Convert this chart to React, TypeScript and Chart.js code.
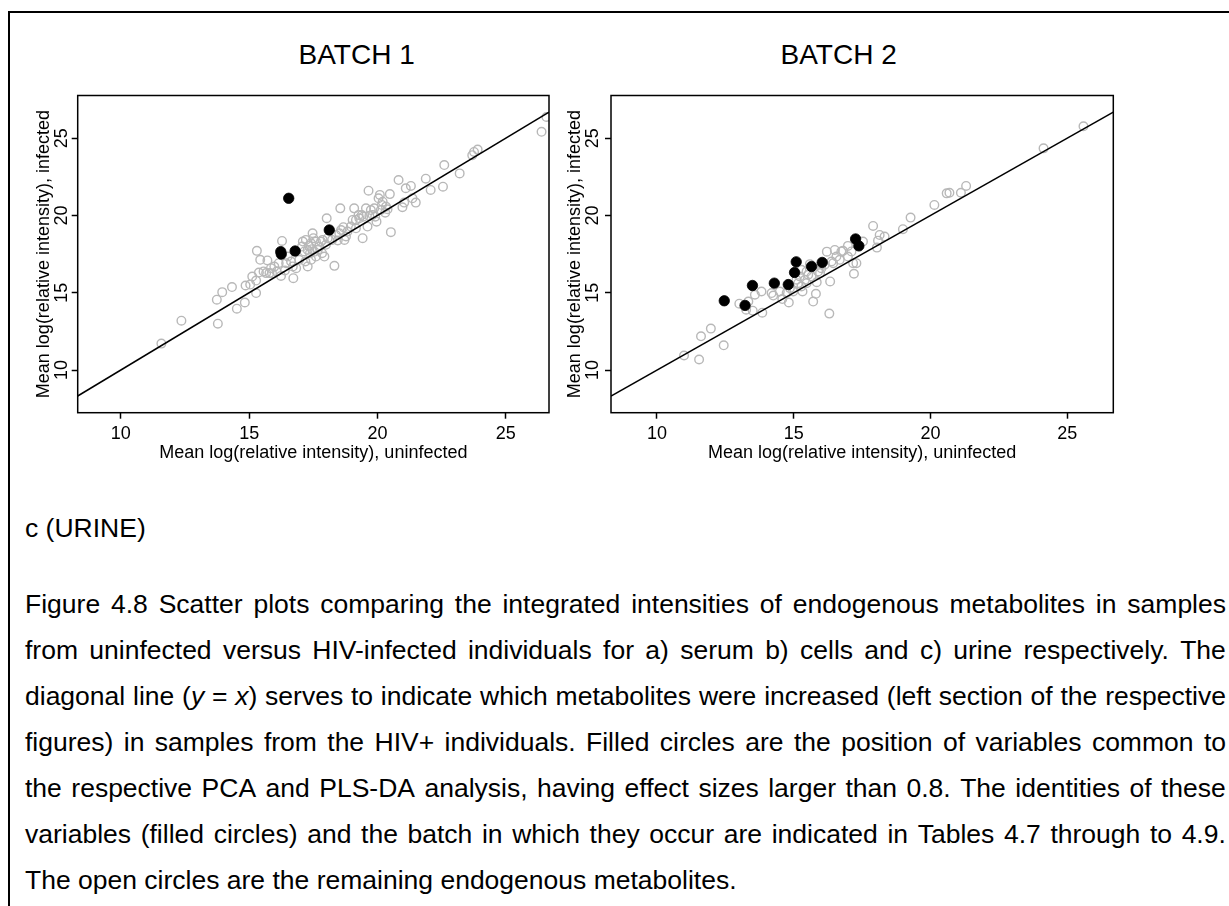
import React, { useEffect, useRef } from "react";
import { Chart, registerables } from "chart.js";

Chart.register(...registerables);

const FONT = "'Liberation Sans', Arial, Helvetica, sans-serif";

// Axis limits (R xlim=c(9,26), ylim=c(8,27) with 4% extension)
const X_MIN = 8.32;
const X_MAX = 26.68;
const Y_MIN = 7.24;
const Y_MAX = 27.76;
const TICK_VALUES = [10, 15, 20, 25];

const X_TITLE = "Mean log(relative intensity), uninfected";
const Y_TITLE = "Mean log(relative intensity), infected";
const PANEL_TITLES = ["BATCH 1", "BATCH 2"];

// ---- BATCH 1 ----
const B1_OPEN_X = [
  11.58, 12.36, 13.78, 13.74, 13.95, 14.33, 14.52, 14.83, 14.86, 15.04, 15.27, 15.27, 15.12, 15.30, 15.43,
  15.38, 15.66, 15.71, 15.85, 15.98, 16.07, 16.24, 16.28, 16.44, 16.72, 16.50, 16.95, 17.19, 17.06, 17.21,
  17.28, 17.47, 17.41, 17.60, 17.54, 17.73, 17.93, 17.86, 18.02, 18.32, 18.38, 18.58, 18.55, 18.77, 18.71,
  19.03, 19.09, 19.16, 19.29, 19.42, 19.44, 19.55, 19.61, 19.65, 19.81, 19.96, 19.87, 20.04, 20.09, 20.20,
  20.30, 20.33, 20.52, 20.48, 20.82, 20.97, 21.04, 21.10, 21.30, 21.36, 21.49, 21.88, 22.07, 22.55, 22.60,
  23.20, 23.69, 23.76, 23.90, 26.39, 26.58,
  17.09, 17.15, 17.32, 17.37, 17.45, 17.50, 17.67, 17.80, 17.84, 17.99, 18.06, 18.23, 18.45, 18.51, 18.67,
  18.83, 18.96, 19.16, 19.26, 19.39, 19.68, 19.74, 19.91, 20.13, 20.17, 20.39, 16.70, 16.83, 16.39, 16.15,
  15.89, 15.56, 15.79, 16.63, 17.41, 17.60, 17.28,
];
const B1_OPEN_Y = [
  11.71, 13.19, 13.00, 14.55, 15.04, 15.37, 13.97, 14.37, 15.47, 15.53, 14.98, 15.79, 16.05, 17.71, 17.13,
  16.31, 16.27, 17.09, 16.59, 16.69, 16.37, 16.09, 18.35, 16.91, 15.94, 17.34, 17.13, 17.02, 17.99, 18.42,
  17.77, 18.85, 18.20, 18.31, 17.66, 17.98, 17.34, 18.42, 19.82, 16.74, 18.74, 19.06, 20.46, 18.64, 18.42,
  19.71, 20.46, 19.17, 19.82, 18.53, 19.92, 20.46, 19.28, 21.60, 20.03, 19.60, 20.46, 21.11, 21.33, 20.89,
  20.18, 20.57, 18.92, 21.38, 22.29, 20.53, 20.83, 21.76, 21.91, 21.11, 20.83, 22.38, 21.65, 21.86, 23.26,
  22.72, 23.90, 24.11, 24.26, 25.41, 26.37,
  18.31, 17.67, 18.03, 17.56, 17.82, 18.53, 17.77, 18.31, 17.56, 18.10, 18.53, 18.42, 18.38, 18.85, 19.24,
  18.96, 19.28, 19.71, 20.03, 20.03, 19.97, 20.35, 19.92, 20.35, 20.68, 20.40, 16.70, 16.59, 16.44, 16.91,
  16.25, 16.38, 16.27, 17.02, 17.13, 17.34, 16.70,
];
const B1_FILLED_X = [16.54, 18.12, 16.23, 16.25, 16.79];
const B1_FILLED_Y = [21.11, 19.06, 17.66, 17.50, 17.70];

// ---- BATCH 2 ----
const B2_OPEN_X = [
  10.99, 11.54, 11.61, 11.97, 12.44, 13.01, 13.26, 13.34, 13.50, 13.58, 13.82, 13.85, 14.19, 14.25, 14.49,
  14.58, 14.82, 14.98, 15.16, 15.22, 15.32, 15.41, 15.53, 15.59, 15.71, 15.81, 15.84, 15.96, 16.21, 16.33,
  16.30, 16.50, 16.44, 16.68, 16.80, 16.98, 16.98, 17.20, 17.29, 17.53, 17.90, 18.04, 18.08, 18.14, 18.32,
  18.99, 19.27, 20.14, 20.59, 20.69, 21.11, 21.30, 24.13, 25.59,
  14.74, 14.86, 15.10, 15.28, 15.47, 15.65, 15.89, 16.01, 16.13, 16.38, 16.56, 16.74, 17.11, 17.17, 15.47,
  15.28,
];
const B2_OPEN_Y = [
  10.94, 10.68, 12.18, 12.68, 11.60, 14.29, 13.90, 14.43, 13.84, 14.87, 15.08, 13.71, 14.98, 14.82, 15.08,
  14.59, 14.37, 15.08, 15.62, 16.05, 15.08, 15.84, 16.16, 16.85, 14.43, 14.93, 15.68, 16.27, 17.66, 15.73,
  13.65, 17.77, 16.91, 17.13, 17.71, 18.03, 17.34, 16.23, 16.91, 18.31, 19.32, 17.92, 18.37, 18.74, 18.64,
  19.11, 19.86, 20.68, 21.43, 21.47, 21.47, 21.91, 24.34, 25.77,
  14.98, 15.30, 15.84, 15.41, 15.62, 16.05, 16.38, 16.59, 16.81, 17.02, 17.34, 17.67, 17.67, 16.91, 16.38,
  16.48,
];
const B2_FILLED_X = [12.46, 13.22, 13.49, 14.29, 14.80, 15.03, 15.09, 15.65, 16.04, 17.26, 17.38];
const B2_FILLED_Y = [14.48, 14.18, 15.47, 15.62, 15.53, 16.31, 17.00, 16.70, 16.96, 18.48, 18.03];

const CAPTION_HEAD = "c (URINE)";
const CAPTION_LINES = [
  "Figure 4.8 Scatter plots comparing the integrated intensities of endogenous metabolites in samples",
  "from uninfected versus HIV-infected individuals for a) serum b) cells and c) urine respectively. The",
  "diagonal line (*y* = *x*) serves to indicate which metabolites were increased (left section of the respective",
  "figures) in samples from the HIV+ individuals. Filled circles are the position of variables common to",
  "the respective PCA and PLS-DA analysis, having effect sizes larger than 0.8. The identities of these",
  "variables (filled circles) and the batch in which they occur are indicated in Tables 4.7 through to 4.9.",
  "The open circles are the remaining endogenous metabolites.",
];

type Geom = {
  left: number; top: number; w: number; h: number;
  padTop: number; padRight: number; yAxisW: number; xAxisH: number;
  yTickPad: number; yTitlePad: number; xTickPad: number; xTitlePad: number;
};

const GEOMS: Geom[] = [
  { left: 0, top: 60, w: 560, h: 420, padTop: 35.5, padRight: 11, yAxisW: 77.7, xAxisH: 67.3,
    yTickPad: -0.8, yTitlePad: 33.7, xTickPad: 4.5, xTitlePad: 16.2 },
  { left: 560, top: 60, w: 669, h: 420, padTop: 35.5, padRight: 115.7, yAxisW: 51, xAxisH: 67.3,
    yTickPad: 1.5, yTitlePad: 4.7, xTickPad: 4.5, xTitlePad: 16.2 },
];

const toPts = (xs: number[], ys: number[]) => xs.map((x, i) => ({ x, y: ys[i] }));

const boxPlugin = {
  id: "plotBox",
  afterDatasetsDraw(chart: any) {
    const { ctx, chartArea: a } = chart;
    ctx.save();
    ctx.strokeStyle = "#000";
    ctx.lineWidth = 1.5;
    ctx.strokeRect(a.left, a.top, a.right - a.left, a.bottom - a.top);
    ctx.restore();
  },
};

function Panel(props: { g: Geom; openX: number[]; openY: number[]; filledX: number[]; filledY: number[] }) {
  const ref = useRef<HTMLCanvasElement>(null);
  const { g } = props;
  useEffect(() => {
    const gridOpts = {
      display: true,
      drawOnChartArea: false,
      drawTicks: true,
      tickLength: 6,
      tickWidth: 1.5,
      tickColor: "#000",
      color: "#000",
    };
    const chart = new Chart(ref.current as HTMLCanvasElement, {
      type: "scatter",
      data: {
        datasets: [
          {
            label: "filled",
            data: toPts(props.filledX, props.filledY),
            pointRadius: 5.2,
            pointBackgroundColor: "#000",
            pointBorderColor: "#000",
            pointBorderWidth: 0.8,
            order: 0,
          },
          {
            label: "y = x",
            data: [
              { x: X_MIN, y: X_MIN },
              { x: X_MAX, y: X_MAX },
            ],
            showLine: true,
            borderColor: "#000",
            borderWidth: 1.5,
            pointRadius: 0,
            order: 1,
          },
          {
            label: "open",
            data: toPts(props.openX, props.openY),
            pointRadius: 4.3,
            pointBackgroundColor: "rgba(0,0,0,0)",
            pointBorderColor: "#b8b8b8",
            pointBorderWidth: 1.4,
            order: 2,
          },
        ] as any,
      },
      options: {
        animation: false,
        responsive: false,
        devicePixelRatio: 1,
        events: [],
        layout: { padding: { top: g.padTop, right: g.padRight, left: 0, bottom: 0 } },
        plugins: { legend: { display: false }, tooltip: { enabled: false }, title: { display: false } },
        scales: {
          x: {
            type: "linear",
            min: X_MIN,
            max: X_MAX,
            afterBuildTicks: (s: any) => {
              s.ticks = TICK_VALUES.map((v) => ({ value: v }));
            },
            afterFit: (s: any) => {
              s.height = g.xAxisH;
            },
            grid: gridOpts,
            border: { display: false },
            ticks: {
              color: "#000",
              font: { family: FONT, size: 18 },
              padding: g.xTickPad,
              minRotation: 0,
              maxRotation: 0,
              autoSkip: false,
              callback: (v: any) => String(v),
            },
            title: {
              display: true,
              text: X_TITLE,
              color: "#000",
              font: { family: FONT, size: 18 },
              padding: { top: 0, bottom: g.xTitlePad },
            },
          },
          y: {
            type: "linear",
            min: Y_MIN,
            max: Y_MAX,
            afterBuildTicks: (s: any) => {
              s.ticks = TICK_VALUES.map((v) => ({ value: v }));
            },
            afterFit: (s: any) => {
              s.width = g.yAxisW;
            },
            grid: gridOpts,
            border: { display: false },
            ticks: {
              color: "#000",
              font: { family: FONT, size: 18 },
              padding: g.yTickPad,
              minRotation: 90,
              maxRotation: 90,
              crossAlign: "center",
              autoSkip: false,
              callback: (v: any) => String(v),
            },
            title: {
              display: true,
              text: Y_TITLE,
              color: "#000",
              font: { family: FONT, size: 18 },
              padding: { top: g.yTitlePad, bottom: 0 },
            },
          },
        },
      } as any,
      plugins: [boxPlugin],
    });
    return () => chart.destroy();
  }, []);
  return (
    <canvas
      ref={ref}
      width={g.w}
      height={g.h}
      style={{ position: "absolute", left: g.left, top: g.top, width: g.w, height: g.h }}
    />
  );
}

function renderToken(tok: string, key: number) {
  const parts = tok.split("*");
  return (
    <span key={key}>
      {parts.map((p, i) => (i % 2 === 1 ? <i key={i}>{p}</i> : <React.Fragment key={i}>{p}</React.Fragment>))}
    </span>
  );
}

export default function App() {
  const titleCenters = [356.7, 838.7];
  return (
    <div
      style={{
        position: "absolute",
        left: 0,
        top: 0,
        width: 1229,
        height: 906,
        background: "#fff",
        overflow: "hidden",
        fontFamily: FONT,
        color: "#000",
      }}
    >
      <div
        style={{
          position: "absolute",
          left: 8,
          top: 11,
          width: 1229,
          height: 906,
          borderLeft: "2px solid #000",
          borderTop: "2px solid #000",
        }}
      />
      {PANEL_TITLES.map((t, i) => (
        <div
          key={t}
          style={{
            position: "absolute",
            left: titleCenters[i] - 150,
            width: 300,
            top: 35,
            height: 40,
            lineHeight: "40px",
            fontSize: 28,
            textAlign: "center",
            whiteSpace: "nowrap",
          }}
        >
          {t}
        </div>
      ))}
      <Panel g={GEOMS[0]} openX={B1_OPEN_X} openY={B1_OPEN_Y} filledX={B1_FILLED_X} filledY={B1_FILLED_Y} />
      <Panel g={GEOMS[1]} openX={B2_OPEN_X} openY={B2_OPEN_Y} filledX={B2_FILLED_X} filledY={B2_FILLED_Y} />
      <div
        style={{
          position: "absolute",
          left: 25,
          top: 505,
          height: 46,
          lineHeight: "46px",
          fontSize: 26.5,
          whiteSpace: "nowrap",
        }}
      >
        {CAPTION_HEAD}
      </div>
      {CAPTION_LINES.map((line, li) => {
        const last = li === CAPTION_LINES.length - 1;
        const toks = line.split(" ");
        return (
          <div
            key={li}
            style={{
              position: "absolute",
              left: 25,
              top: 581 + li * 46,
              width: 1201,
              height: 46,
              lineHeight: "46px",
              fontSize: 26.5,
              whiteSpace: "nowrap",
              display: "flex",
              justifyContent: last ? "flex-start" : "space-between",
              gap: last ? "0.278em" : 0,
            }}
          >
            {toks.map((t, i) => renderToken(t, i))}
          </div>
        );
      })}
    </div>
  );
}
